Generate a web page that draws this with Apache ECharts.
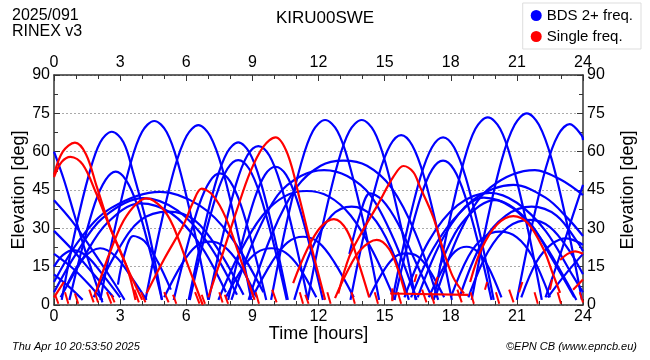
<!DOCTYPE html>
<html><head><meta charset="utf-8">
<script src="https://cdn.jsdelivr.net/npm/echarts@6/dist/echarts.min.js"></script>
<style>html,body{margin:0;padding:0;background:#fff}#c{width:650px;height:360px}</style>
</head><body><div id="c"></div>
<script>
// ---- data (time [h], elevation [deg]) ----
const stationName = 'KIRU00SWE';
const dateLabel = '2025/091';
const rinexLabel = 'RINEX v3';
const legendNames = ['BDS 2+ freq.', 'Single freq.'];
const xTickLabels = [0,3,6,9,12,15,18,21,24];
const yTickLabels = [0,15,30,45,60,75,90];

const blueArcs = [
 [[0,60],[0.45,49],[0.9,36],[1.5,19],[2.2,1]],
 [[0.35,2],[0.95,28.5],[1.6,51.5],[2.1,63.7],[2.62,67.8],[3.15,63.7],[3.6,51.5],[4.3,28.5],[4.9,2]],
 [[2.1,2],[2.76,30],[3.45,54.7],[3.99,67.7],[4.55,72],[5.11,67.7],[5.65,54.7],[6.34,30],[7.0,2]],
 [[4.15,2],[4.8,29.5],[5.47,53.5],[6.02,66.2],[6.55,70.4],[7.08,66.2],[7.63,53.5],[8.3,29.5],[8.95,2]],
 [[6.11,2],[6.72,26.7],[7.35,48.3],[7.86,59.8],[8.36,63.6],[8.86,59.8],[9.37,48.3],[10.0,26.7],[10.61,2]],
 [[7.02,2],[7.63,26.1],[8.26,47.3],[8.77,58.5],[9.27,62.2],[9.77,58.5],[10.28,47.3],[10.91,26.1],[11.52,2]],
 [[9.85,2],[10.51,30.4],[11.2,55],[11.74,68],[12.3,72.4],[12.86,68],[13.4,55],[14.09,30.4],[14.75,2]],
 [[11.51,2],[12.17,30.4],[12.86,55],[13.4,68],[13.96,72.4],[14.52,68],[15.06,55],[15.75,30.4],[16.41,2]],
 [[13.45,2],[14.07,27.9],[14.72,50.5],[15.25,62.5],[15.75,66.5],[16.25,62.5],[16.78,50.5],[17.43,27.9],[18.05,2]],
 [[15.35,2],[15.97,27.6],[16.62,49.9],[17.15,61.7],[17.65,65.6],[18.15,61.7],[18.68,49.9],[19.33,27.6],[19.95,2]],
 [[17.23,2],[17.89,30.8],[18.58,55.8],[19.12,69],[19.68,73.4],[20.24,69],[20.78,55.8],[21.47,30.8],[22.13,2]],
 [[18.95,2],[19.62,31.5],[20.32,57],[20.9,70.5],[21.45,75],[22.0,70.5],[22.58,57],[23.28,31.5],[23.95,2]],
 [[21.0,2],[21.65,29.7],[22.32,53.8],[22.87,66.5],[23.4,70.8],[23.93,66.5],[24,64.5]],
 [[0.7,2],[1.27,21.9],[1.85,39.7],[2.34,49],[2.8,52.2],[3.26,49],[3.75,39.7],[4.33,21.9],[4.9,2]],
 [[5.43,2],[6.0,21.6],[6.58,39.1],[7.07,48.4],[7.53,51.5],[7.99,48.4],[8.48,39.1],[9.06,21.6],[9.63,2]],
 [[6.16,2],[6.75,23.8],[7.37,43.1],[7.87,53.3],[8.36,56.7],[8.85,53.3],[9.35,43.1],[9.97,23.8],[10.56,2]],
 [[7.9,2],[8.48,22.7],[9.08,41.1],[9.57,50.9],[10.05,54.1],[10.53,50.9],[11.02,41.1],[11.62,22.7],[12.2,2]],
 [[15.45,2],[16.04,23.7],[16.66,42.9],[17.16,53.1],[17.65,56.5],[18.14,53.1],[18.64,42.9],[19.26,23.7],[19.85,2]],
 [[8.83,2],[9.9,28],[11.0,46],[12.1,54.5],[13.13,56.5],[14.2,54.5],[15.3,46],[16.4,28],[17.43,2]],
 [[8.05,2],[9.1,26],[10.15,43],[11.2,50.5],[12.25,52.8],[13.3,50.5],[14.35,43],[15.4,26],[16.45,2]],
 [[7.46,2],[8.46,21],[9.46,35],[10.46,42.5],[11.46,44.6],[12.46,42.5],[13.46,35],[14.46,21],[15.46,2]],
 [[13.4,20],[13.9,36],[14.34,43.7],[14.9,41],[15.6,32],[16.4,17],[17.2,2]],
 [[10.9,2],[11.7,22],[12.6,35],[13.5,38.5],[14.4,35],[15.3,22],[16.1,2]],
 [[9.0,3],[9.9,17],[10.6,24.5],[11.3,26.7],[12.0,24.5],[12.7,17],[13.6,3]],
 [[7.8,3],[8.6,15],[9.2,20.5],[9.87,22.2],[10.5,20.5],[11.1,15],[11.9,3]],
 [[5.0,3],[5.8,16],[6.45,23],[7.08,24.8],[7.7,23],[8.4,16],[9.2,3]],
 [[14.3,3],[15.0,14],[15.5,19],[16.0,20.2],[16.5,19],[17.0,14],[17.7,3]],
 [[17.0,3],[17.7,15],[18.2,21],[18.72,22.8],[19.2,21],[19.7,15],[20.3,3]],
 [[18.0,3],[18.8,19],[19.5,26.5],[20.23,28.7],[21.0,26.5],[21.7,19],[22.5,3]],
 [[21.2,3],[21.9,17],[22.6,24],[23.26,26.1],[23.8,24.5],[24,23.5]],
 [[18.8,3],[19.7,21],[20.6,30.5],[21.6,33.3],[22.5,30.5],[23.4,21],[24,12]],
 [[18.4,3],[19.4,24],[20.5,35],[21.67,38.5],[22.8,35],[23.8,24],[24,21]],
 [[17.3,3],[18.5,30],[19.8,46],[21.82,52.8],[23.0,49],[24,43]],
 [[16.5,3],[17.7,27],[19.0,41],[20.84,47],[22.3,42],[23.3,34],[24,27]],
 [[15.9,3],[17.0,25],[18.3,39],[19.78,43.9],[21.0,40],[22.3,29],[23.5,12],[24,5]],
 [[16.2,3],[17.2,22],[18.4,36],[19.5,42],[20.8,38],[22.0,27],[23.2,10],[23.7,2]],
 [[17.5,15],[18.5,32],[20,41],[21.5,33],[22.6,18],[23.6,3]],
 [[22.3,3],[22.9,18],[23.5,34],[24,47]],
 [[22.4,3],[23.2,12],[24,20]],
 [[0,9],[1.2,26],[2.6,38],[4.81,44.3],[6.6,39],[8.0,27],[9.5,5]],
 [[0,5],[1.0,20],[2.2,34],[4.05,41.8],[5.6,37],[7.0,24],[8.3,4]],
 [[0.3,3],[1.3,18],[2.4,32],[3.9,39.8],[5.3,36],[6.6,24],[7.8,5]],
 [[1.8,3],[2.8,20],[3.9,33],[5.2,36.5],[6.4,33],[7.5,21],[8.6,4]],
 [[0,41],[0.8,33],[1.7,22],[2.7,9],[3.2,2]],
 [[0,29],[0.9,21],[1.8,12],[2.7,3]],
 [[0,15],[0.4,19.5],[0.88,21.5],[1.5,19],[2.2,12],[3.0,3]],
 [[0.6,8],[1.3,18],[2.09,22.2],[2.8,19],[3.5,11],[4.2,2]],
 [[2.9,8],[3.2,20],[3.6,27],[4.1,25],[4.7,17],[5.3,6]],
 [[0,20],[0.9,14],[1.8,6],[2.2,2]],
 [[0,12],[0.7,7],[1.3,2]]
];

const redArcs = [
 [[0,51],[0.4,60],[0.95,63.5],[1.45,59],[1.94,46.3],[2.54,30.6],[3.3,15],[3.7,2]],
 [[0,50],[0.35,56],[0.75,58],[1.3,55],[1.9,44],[2.6,29],[3.3,15],[4.0,2]],
 [[1.9,5],[2.6,22],[3.3,35],[4.2,41.7],[4.9,38],[5.4,31],[6.1,15],[6.75,0]],
 [[4.2,4.6],[5.0,18],[5.87,31.3],[6.3,40],[6.7,45.5],[7.2,43],[7.8,34],[8.5,17],[9.1,2]],
 [[7.0,3],[7.65,20],[8.29,37],[8.9,52],[9.5,62],[10.05,65.6],[10.6,59],[11.16,41],[11.7,22],[12.3,2]],
 [[10.85,8.6],[11.5,22],[12.1,30.5],[12.7,33.6],[13.3,29],[13.8,17],[14.3,3]],
 [[12.75,2.7],[13.3,13],[13.9,21.5],[14.64,25.5],[15.2,22],[15.6,14],[15.95,4]],
 [[12.9,4.5],[13.4,19],[14.0,29],[14.64,38.5],[15.4,50.2],[15.85,54.4],[16.3,52],[16.6,46.3],[17.2,34.5],[17.66,21.5],[18.1,11],[18.6,4.5]],
 [[15.25,4.5],[18.8,4]],
 [[15.35,1.5],[15.35,6.5]],
 [[18.88,9],[19.4,22],[20.1,31.5],[20.84,34.8],[21.5,32],[22.2,22],[22.6,13],[22.96,4.7]],
 [[22.96,17.6],[23.3,20],[23.64,21],[24,20]],
 [[23.55,6],[24,10]],
 [[0,3],[0.45,9]]
];

const redTails = [
 [[0.05,4],[0.2,0.5]], [[0.5,5],[0.65,0.5]], [[0.95,4.5],[1.1,0.5]], [[1.6,6],[1.8,1]],
 [[1.85,5],[2.0,1]], [[2.4,5],[2.6,0.5]], [[2.6,4],[2.75,1]], [[3.65,6],[3.85,1]],
 [[3.95,5],[4.15,1]], [[5.0,5],[5.2,1]], [[5.4,4],[5.55,0.5]], [[6.4,5],[6.6,0.5]],
 [[6.7,4],[6.85,0.5]], [[7.5,5],[7.65,1]], [[7.75,4],[7.9,0.5]], [[9.15,5],[9.3,0.5]],
 [[9.9,6],[10.1,1]], [[11.15,5],[11.3,0.5]], [[11.4,4],[11.55,0.5]], [[12.4,5],[12.55,0.5]],
 [[13.5,5],[13.65,0.5]], [[14.55,5],[14.7,0.5]], [[15.6,5],[15.75,0.5]], [[16.7,6],[16.9,1]],
 [[17.1,5],[17.25,0.5]], [[18.3,6],[18.5,1]], [[18.9,5],[19.05,0.5]], [[20.05,5],[20.2,0.5]],
 [[20.65,6],[20.85,1]], [[21.8,5],[21.95,0.5]], [[22.85,5],[23.0,0.5]], [[23.85,5],[24,1]],
 [[19.55,6],[19.65,9]], [[21.1,5],[21.25,9]], [[22.5,6],[22.6,10]], [[16.35,9],[16.45,12]], [[17.3,8],[17.4,11]]
];

// ---- chart ----
const FONT = 'Liberation Sans, Arial, sans-serif';
const BLUE = '#0000ff', RED = '#ff0000';
const chart = echarts.init(document.getElementById('c'), null, {renderer:'canvas'});

function lineSeries(name, color, data, width){
  return {type:'line', name:name, data:data, showSymbol:false, smooth:0.35,
    lineStyle:{color:color, width:width}, itemStyle:{color:color},
    emphasis:{disabled:true}, silent:true, animation:false, clip:true};
}
const series = [];
blueArcs.forEach(a => series.push(lineSeries(legendNames[0], BLUE, a, 2.2)));
redArcs.forEach(a => series.push(lineSeries(legendNames[1], RED, a, 2.2)));
redTails.forEach(a => series.push(lineSeries(legendNames[1], RED, a, 2)));

const axisCommon = {
  type:'value', axisLine:{show:true, onZero:false, lineStyle:{color:'#333', width:1.5}},
  axisTick:{show:true, inside:true, length:6, lineStyle:{color:'#333', width:1}},
  axisLabel:{fontSize:16, color:'#000', fontFamily:FONT, margin:4},
  nameTextStyle:{fontSize:18, color:'#000', fontFamily:FONT},
  nameMoveOverlap:false
};
function xAx(pos, withName){
  return Object.assign({}, axisCommon, {position:pos, min:0, max:24, interval:3,
    minorTick:{show:true, splitNumber:3, length:4, lineStyle:{color:'#333'}},
    splitLine:{show:false},
    axisLabel:Object.assign({}, axisCommon.axisLabel, {formatter:v => xTickLabels.includes(v) ? String(v) : ''}),
    name: withName ? 'Time [hours]' : '', nameLocation:'middle', nameGap:20});
}
function yAx(pos, grid, gap){
  return Object.assign({}, axisCommon, {position:pos, min:0, max:90, interval:15,
    minorTick:{show:true, splitNumber:2, length:4, lineStyle:{color:'#333'}},
    splitLine:{show:grid, lineStyle:{type:[2,2], color:'#aaa', width:1}},
    axisLabel:Object.assign({}, axisCommon.axisLabel, {formatter:v => yTickLabels.includes(v) ? String(v) : ''}),
    name:'Elevation [deg]', nameLocation:'middle', nameGap:gap, nameRotate:90});
}

chart.setOption({
  animation:false,
  grid:{left:54, right:67, top:75, bottom:55, containLabel:false, outerBoundsMode:'none'},
  xAxis:[xAx('bottom', true), xAx('top', false)],
  yAxis:[yAx('left', true, 26), yAx('right', false, 36)],
  legend:{data:legendNames, orient:'vertical', right:9, top:3, icon:'circle',
    itemWidth:11, itemHeight:11, itemGap:6, backgroundColor:'#fff', borderColor:'#ddd', borderWidth:1,
    padding:[5,8,5,8], textStyle:{fontSize:15, color:'#000', fontFamily:FONT}, selectedMode:false},
  graphic:[
    {type:'text', left:12, top:8, style:{text:dateLabel, font:'16px '+FONT, fill:'#000'}},
    {type:'text', left:12, top:24, style:{text:rinexLabel, font:'16px '+FONT, fill:'#000'}},
    {type:'text', left:'center', top:10, style:{text:stationName, font:'17px '+FONT, fill:'#000'}},
    {type:'text', left:12, top:341, style:{text:'Thu Apr 10 20:53:50 2025', font:'italic 11px '+FONT, fill:'#000'}},
    {type:'text', right:13, top:341, style:{text:'©EPN CB (www.epncb.eu)', font:'italic 11px '+FONT, fill:'#000'}}
  ],
  series:series
});
</script></body></html>
